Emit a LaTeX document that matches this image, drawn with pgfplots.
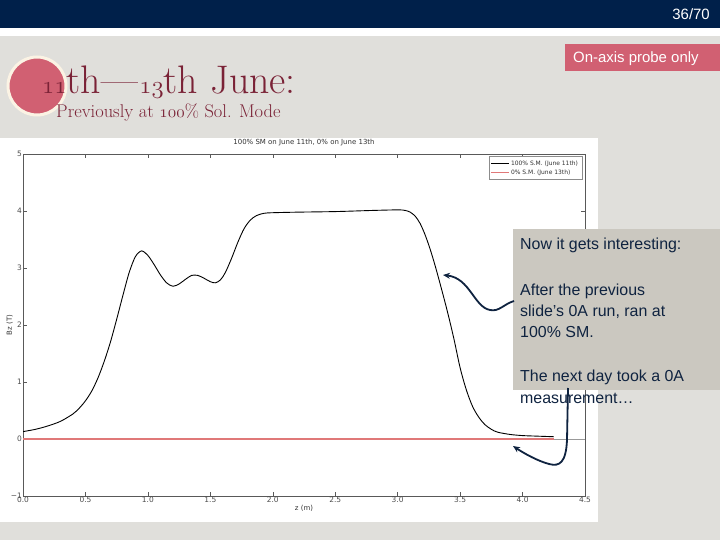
\documentclass[border=0pt]{standalone}
\usepackage{pgfplots}
\pgfplotsset{compat=1.18}
\usetikzlibrary{arrows.meta}
\usepackage{fontspec}
\setsansfont{Liberation Sans}
\newfontfamily\dejavu{DejaVu Sans}
\definecolor{navy}{HTML}{00204A}
\definecolor{slidebg}{HTML}{E0DFDB}
\definecolor{titlered}{HTML}{7A2236}
\definecolor{pinkc}{HTML}{D16072}
\definecolor{cream}{HTML}{FBF3E4}
\definecolor{boxgrey}{HTML}{CBC8C0}
\definecolor{textnavy}{HTML}{0F2340}
\definecolor{mplred}{HTML}{E07878}
\newcommand\osn[1]{{\usefont{OML}{lmm}{m}{it}#1}}
\begin{document}
\begin{tikzpicture}[x=1bp,y=1bp]
\clip (0,0) rectangle (720,-540);
\fill[slidebg] (0,0) rectangle (720,-540);
\fill[white] (0,-28) rectangle (720,-36);
\fill[navy] (0,0) rectangle (720,-28);
\node[anchor=base east, text=white, font=\sffamily\fontsize{15}{18}\selectfont, inner sep=0] at (710,-20) {36/70};
% pink label
\fill[pinkc] (565,-44) rectangle (720,-71);
\node[anchor=base west, text=white, font=\sffamily\fontsize{15}{18}\selectfont, inner sep=0] at (573,-63) {On-axis probe only};
% circle
\fill[pinkc, draw=cream, line width=3bp] (37,-86) circle (29);
% title
\node[anchor=base west, text=titlered, font=\fontsize{40}{44}\selectfont, inner sep=0] at (42,-94) {\osn{11}th\kern1pt---\kern1pt\osn{13}th June:};
\node[anchor=base west, text=titlered, font=\fontsize{18.5}{21}\selectfont, inner sep=0] at (56,-118) {Previously at \osn{100}\% Sol. Mode};
% chart background
\fill[white] (0,-138) rectangle (598,-522);
\begin{axis}[
  at={(23bp,-496bp)}, anchor=south west,
  scale only axis, width=562bp, height=342bp,
  xmin=0, xmax=4.5, ymin=-1, ymax=5,
  xtick={0,0.5,1,1.5,2,2.5,3,3.5,4,4.5}, ytick={-1,0,1,2,3,4,5},
  xticklabels={0.0,0.5,1.0,1.5,2.0,2.5,3.0,3.5,4.0,4.5},
  yticklabels={−1,0,1,2,3,4,5},
  tick align=inside, major tick length=4bp,
  axis line style={draw=black!65, line width=0.7bp},
  tick style={black!65, line width=0.5bp},
  ticklabel style={font=\dejavu\fontsize{7.5}{8}\selectfont, text=black!70},
  xticklabel style={inner sep=1bp},
  yticklabel style={inner sep=1bp},
  title={100\% SM on June 11th, 0\% on June 13th},
  title style={font=\dejavu\fontsize{7}{8}\selectfont, text=black!80, at={(0.5,1)}, anchor=south, inner sep=1.5bp},
  xlabel={z (m)}, ylabel={Bz (T)},
  label style={font=\dejavu\fontsize{7}{8}\selectfont, text=black!80},
  xlabel style={at={(0.5,0)}, anchor=north, yshift=-9bp, inner sep=0},
  ylabel style={at={(0,0.5)}, anchor=south, yshift=10bp, inner sep=0},
  legend style={at={(0.995,0.993)}, anchor=north east, font=\dejavu\fontsize{6}{6.5}\selectfont, draw=black!45, inner sep=2bp, row sep=-1bp, text=black!80},
  legend cell align=left,
]
\addplot[black!40, line width=0.6bp, forget plot] coordinates {(0,0) (4.5,0)};
\addplot[black, line width=0.9bp, smooth] coordinates {
(0.00,0.13) (0.10,0.17) (0.20,0.23) (0.30,0.31) (0.40,0.44) (0.45,0.54)
(0.50,0.67) (0.55,0.84) (0.60,1.07) (0.65,1.36) (0.70,1.70) (0.75,2.10)
(0.80,2.52) (0.85,2.92) (0.90,3.20) (0.95,3.30) (1.00,3.22) (1.05,3.06)
(1.10,2.88) (1.15,2.74) (1.20,2.68) (1.25,2.72) (1.30,2.80) (1.35,2.87)
(1.40,2.87) (1.45,2.82) (1.50,2.76) (1.54,2.74) (1.58,2.79) (1.62,2.92)
(1.67,3.17) (1.72,3.45) (1.77,3.69) (1.82,3.84) (1.87,3.92) (1.93,3.96)
(2.00,3.97) (2.20,3.98) (2.50,3.99) (2.80,4.01) (3.00,4.02) (3.06,4.01)
(3.10,3.98) (3.14,3.91) (3.18,3.78) (3.22,3.58) (3.26,3.33) (3.30,3.04)
(3.35,2.64) (3.40,2.22) (3.45,1.76) (3.50,1.25) (3.55,0.86) (3.60,0.57)
(3.65,0.38) (3.70,0.25) (3.75,0.17) (3.80,0.12) (3.90,0.08) (4.00,0.06)
(4.12,0.05) (4.25,0.04)};
\addlegendentry{100\% S.M. (June 11th)}
\addplot[mplred, line width=1.1bp] coordinates {
(0.00,0.00) (1.00,0.00) (2.00,0.00) (3.00,0.00) (4.00,0.00) (4.25,0.00)};
\addlegendentry{0\% S.M. (June 13th)}
\end{axis}
% text box
\fill[boxgrey] (513,-229) rectangle (720,-390);
\begin{scope}[every node/.style={anchor=base west, text=textnavy, font=\sffamily\fontsize{16}{18}\selectfont, inner sep=0}]
\node at (520,-250) {Now it gets interesting:};
\node at (520,-295) {After the previous};
\node at (520,-316) {slide’s 0A run, ran at};
\node at (520,-337) {100\% SM.};
\node at (520,-381) {The next day took a 0A};
\node at (520,-403) {measurement…};
\end{scope}
% arrows
\draw[textnavy, line width=1.8bp, -{Stealth[length=7bp,width=6bp]}]
 (514,-301) .. controls (504,-304) and (499,-312) .. (490,-310)
 .. controls (474,-307) and (470,-278) .. (443,-275);
\draw[textnavy, line width=1.8bp, -{Stealth[length=7bp,width=6bp]}]
 (568,-388) -- (567,-440) .. controls (566,-462) and (560,-467) .. (549,-464)
 .. controls (538,-461) and (525,-454) .. (513,-446);
\end{tikzpicture}
\end{document}
